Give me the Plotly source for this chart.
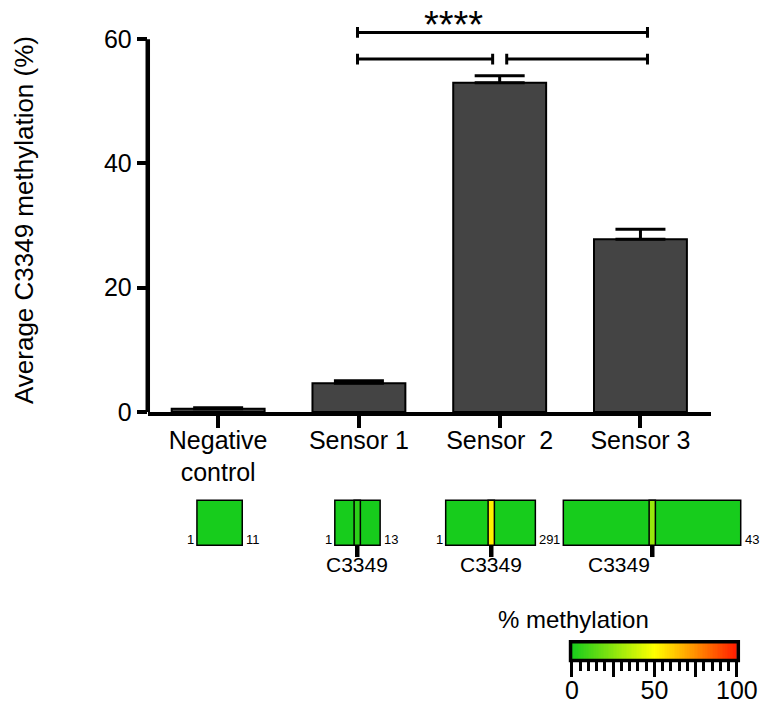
import plotly.graph_objects as go
from plotly.colors import sample_colorscale

W, H = 781, 725

# ---------------- data ----------------
categories = ["Negative<br>control", "Sensor 1", "Sensor\u00a0 2", "Sensor 3"]
mean_methylation = [0.5, 4.6, 53.0, 27.8]
sem_methylation = [0.15, 0.4, 1.1, 1.6]
y_ticks = [0, 20, 40, 60]

# significance brackets: (from, to, height)
bracket_from = [0.99, 0.99, 2.05]
bracket_to = [3.05, 1.95, 3.05]
bracket_y = [61.1, 56.8, 56.8]
sig_label = "****"

# amplicon schematics: sequence length (CpG count) and C3349 methylation
amplicon_len = [11, 13, 29, 43]
has_c3349 = [False, True, True, True]
c3349_value = mean_methylation

# colour legend
meth_scale = [[0.0, "#17cc1c"], [0.5, "#ffff00"], [1.0, "#ff1a00"]]
legend_ticks = [0, 25, 50, 75, 100]
legend_ticktext = ["0", "", "50", "", "100"]
legend_values = list(range(0, 101))

FONT = "Liberation Sans, Arial, Helvetica, sans-serif"


def px(x):
    return x / W


def py(y):
    return 1 - y / H


fig = go.Figure()

fig.add_trace(go.Bar(
    x=list(range(len(categories))), y=mean_methylation,
    width=0.66,
    marker=dict(color="#444444", line=dict(color="black", width=2)),
    error_y=dict(type="data", symmetric=False, array=sem_methylation,
                 arrayminus=[0] * len(categories),
                 color="black", thickness=3, width=25),
    showlegend=False, hoverinfo="skip",
))

# colour ramp legend
fig.add_trace(go.Heatmap(
    z=[legend_values], x=legend_values, y=[0],
    colorscale=meth_scale, zmin=0, zmax=100, showscale=False,
    xaxis="x2", yaxis="y2", hoverinfo="skip",
))

shapes = []
annotations = []

# y axis line (only up to 60)
shapes.append(dict(type="line", xref="paper", yref="y",
                   x0=px(146), x1=px(146), y0=0, y1=y_ticks[-1],
                   line=dict(color="black", width=4.5)))

# brackets
for x0, x1, yb in zip(bracket_from, bracket_to, bracket_y):
    shapes.append(dict(type="line", xref="x", yref="y", x0=x0, x1=x1, y0=yb, y1=yb,
                       line=dict(color="black", width=3)))
    for xe in (x0, x1):
        shapes.append(dict(type="line", xref="x", yref="y", x0=xe, x1=xe,
                           y0=yb - 0.85, y1=yb + 0.85,
                           line=dict(color="black", width=3)))
annotations.append(dict(xref="x", yref="y", x=1.67, y=62.3, text=sig_label,
                        showarrow=False, font=dict(size=38, color="black", family=FONT),
                        yanchor="middle"))

# y-axis title
annotations.append(dict(xref="paper", yref="paper", x=px(17), y=py(224),
                        xanchor="center", yanchor="middle",
                        text="Average C3349 methylation (%)", textangle=-90,
                        showarrow=False, font=dict(size=26, color="black", family=FONT)))

# amplicon schematics (pixel layout)
box_left = [197, 340, 455, 577]
box_right = [244, 387, 548, 761]
stripe_left = [None, 360, 499, 666]
box_top, box_bot = 510, 556
green = sample_colorscale(meth_scale, [0.0])[0]
for i, n in enumerate(amplicon_len):
    shapes.append(dict(type="rect", xref="paper", yref="paper",
                       x0=px(box_left[i]), x1=px(box_right[i]),
                       y0=py(box_bot), y1=py(box_top),
                       fillcolor=green, line=dict(color="black", width=1.5)))
    annotations.append(dict(xref="paper", yref="paper", x=px(box_left[i] - 1), y=py(550),
                            text="1", showarrow=False, xanchor="right", yanchor="middle",
                            font=dict(size=13, color="black", family=FONT)))
    annotations.append(dict(xref="paper", yref="paper", x=px(box_right[i] + 2), y=py(550),
                            text=str(n), showarrow=False, xanchor="left", yanchor="middle",
                            font=dict(size=13, color="black", family=FONT)))
    if has_c3349[i]:
        col = sample_colorscale(meth_scale, [c3349_value[i] / 100])[0]
        sl = stripe_left[i]
        shapes.append(dict(type="rect", xref="paper", yref="paper",
                           x0=px(sl), x1=px(sl + 6.5), y0=py(box_bot), y1=py(box_top),
                           fillcolor=col, line=dict(color="black", width=1.5)))
        cx = sl + 3.25
        shapes.append(dict(type="line", xref="paper", yref="paper",
                           x0=px(cx), x1=px(cx), y0=py(box_bot), y1=py(568),
                           line=dict(color="black", width=4.5)))
        annotations.append(dict(xref="paper", yref="paper", x=px(cx), y=py(576),
                                text="C3349", showarrow=False, yanchor="middle",
                                font=dict(size=21, color="black", family=FONT)))

# legend outline and title
shapes.append(dict(type="rect", xref="paper", yref="paper",
                   x0=px(584.5), x1=px(758.5), y0=py(673.5), y1=py(654.5),
                   line=dict(color="black", width=3.5)))
annotations.append(dict(xref="paper", yref="paper", x=px(668), y=py(632),
                        text="% methylation", showarrow=False, yanchor="middle",
                        font=dict(size=24, color="black", family=FONT)))

fig.update_layout(
    width=W, height=H, margin=dict(l=0, r=0, t=0, b=0),
    paper_bgcolor="white", plot_bgcolor="white",
    font=dict(family=FONT, color="black", size=25),
    xaxis=dict(domain=[px(146), px(730)], range=[-0.5, 3.5],
               tickvals=list(range(len(categories))), ticktext=categories,
               showline=True, linecolor="black", linewidth=4,
               ticks="outside", ticklen=12, tickwidth=4, tickcolor="black",
               ticklabelstandoff=-9,
               showgrid=False, zeroline=False, fixedrange=True,
               tickfont=dict(size=25)),
    yaxis=dict(domain=[py(420), py(2)], range=[0, 66],
               tickvals=y_ticks, showline=False,
               ticks="outside", ticklen=10, tickwidth=4, tickcolor="black",
               showgrid=False, zeroline=False, fixedrange=True,
               tickfont=dict(size=25)),
    xaxis2=dict(domain=[px(586), px(757)], range=[0, 100], anchor="y2",
                tickvals=legend_ticks, ticktext=legend_ticktext,
                ticks="outside", ticklen=15, tickwidth=3, tickcolor="black",
                ticklabelstandoff=-8,
                minor=dict(dtick=5, ticks="outside", ticklen=9, tickwidth=2.5,
                           tickcolor="black", showgrid=False),
                showline=False, showgrid=False, zeroline=False,
                tickfont=dict(size=25)),
    yaxis2=dict(domain=[py(674), py(654)], range=[-0.5, 0.5], anchor="x2",
                visible=False),
    shapes=shapes, annotations=annotations,
)

fig.write_html("out.html")
